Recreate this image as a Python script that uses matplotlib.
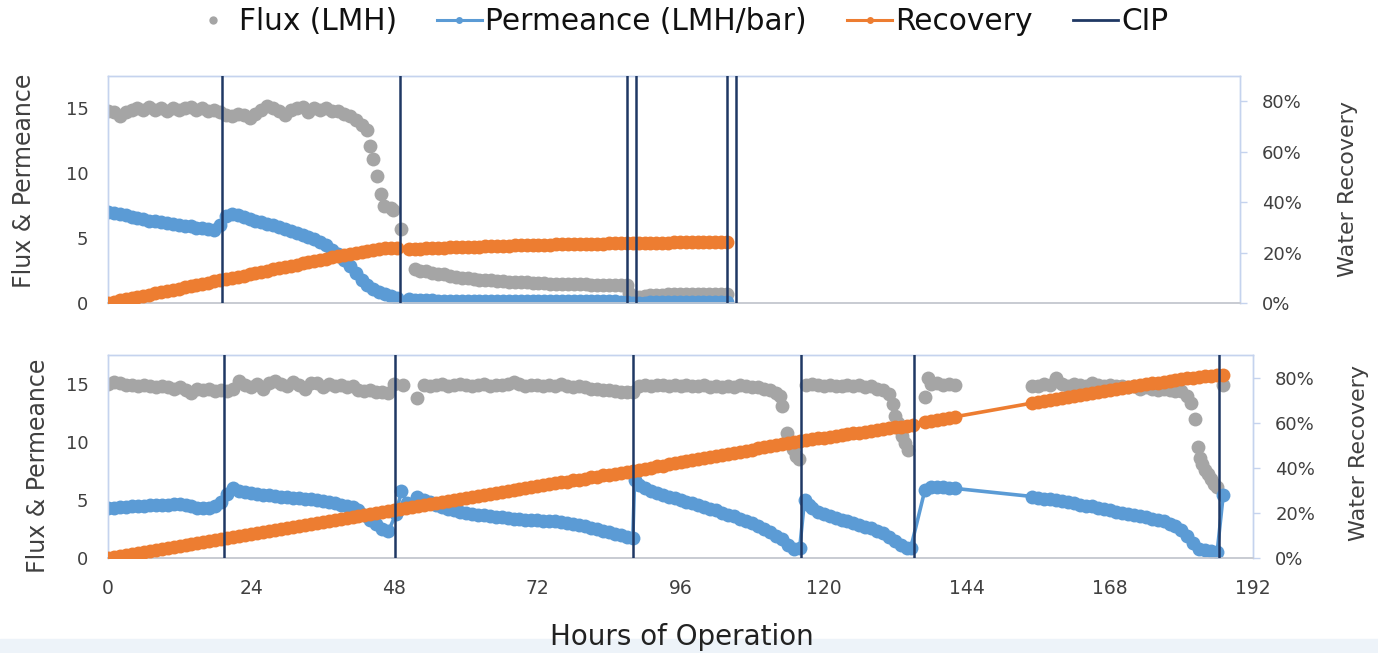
import numpy as np
import matplotlib
matplotlib.use("Agg")
import matplotlib.pyplot as plt
from matplotlib.lines import Line2D
from matplotlib.patches import Rectangle

# ---------------- DATA ----------------
x_ticks = [0, 24, 48, 72, 96, 120, 144, 168, 192]
left_ticks = [0, 5, 10, 15]
right_ticks = [0, 20, 40, 60, 80]
right_tick_labels = ["0%", "20%", "40%", "60%", "80%"]
legend_labels = ["Flux (LMH)", "Permeance (LMH/bar)", "Recovery", "CIP"]

# ---- top panel ----
top_cip = [19.3, 49.6, 88.0, 89.6, 105.0, 106.5]

top_flux_h = (list(range(0, 44))
              + [44.0, 44.5, 45.0, 45.7, 46.3, 46.8, 48.0, 48.4, 49.7]
              + list(range(52, 89))
              + [88.4, 88.8, 89.2, 89.7]
              + list(range(90, 106)))
top_flux = [
    14.8, 14.7, 14.4, 14.7, 14.9, 15.0, 14.9, 15.1, 14.9, 15.0,
    14.8, 15.0, 14.9, 15.0, 15.1, 14.9, 15.0, 14.8, 14.9, 14.7,
    14.5, 14.4, 14.6, 14.5, 14.3, 14.6, 14.9, 15.2, 15.0, 14.8,
    14.5, 14.9, 15.0, 15.1, 14.7, 15.0, 14.9, 15.0, 14.8, 14.8,
    14.6, 14.4, 14.1, 13.7,
    13.3, 12.1, 11.1, 9.8, 8.4, 7.5, 7.3, 7.2, 5.7,
    2.6, 2.5, 2.45, 2.35, 2.25, 2.2, 2.1, 2.0, 1.95, 1.9,
    1.85, 1.8, 1.8, 1.75, 1.7, 1.7, 1.65, 1.65, 1.6, 1.6,
    1.58, 1.55, 1.55, 1.5, 1.5, 1.5, 1.48, 1.45, 1.45, 1.45,
    1.42, 1.42, 1.4, 1.4, 1.4, 1.38, 1.35,
    0.8, 0.2, 0.05, 0.25,
    0.45, 0.55, 0.6, 0.63, 0.65, 0.68, 0.7, 0.7, 0.72, 0.72,
    0.73, 0.72, 0.73, 0.72, 0.72, 0.7]

top_perm_h = list(range(0, 50)) + list(range(51, 106))
top_perm = [
    7.0, 6.95, 6.85, 6.75, 6.65, 6.55, 6.45, 6.35, 6.3, 6.25,
    6.2, 6.1, 6.05, 5.95, 5.9, 5.8, 5.75, 5.7, 5.6, 6.0,
    6.7, 6.85, 6.75, 6.6, 6.5, 6.35, 6.25, 6.1, 6.0, 5.85,
    5.7, 5.55, 5.4, 5.25, 5.1, 4.9, 4.7, 4.45, 4.1, 3.8,
    3.35, 2.85, 2.3, 1.75, 1.35, 1.05, 0.85, 0.7, 0.55, 0.4,
    0.3, 0.25, 0.22, 0.2, 0.2, 0.19, 0.19, 0.18, 0.18, 0.18,
    0.17, 0.17, 0.17, 0.16, 0.16, 0.16, 0.15, 0.15, 0.15, 0.15,
    0.15, 0.14, 0.14, 0.14, 0.14, 0.13, 0.13, 0.13, 0.13, 0.13,
    0.12, 0.12, 0.12, 0.12, 0.12, 0.12, 0.11, 0.11,
    0.0, 0.0, 0.03, 0.05, 0.06, 0.07, 0.08, 0.08, 0.09, 0.09,
    0.1, 0.1, 0.1, 0.1, 0.1, 0.1, 0.1]

top_rec_h = list(range(0, 50)) + list(range(51, 106))
top_rec = [
    0.0, 0.5, 1.0, 1.4, 1.9, 2.4, 2.9, 3.3, 3.8, 4.3,
    4.8, 5.2, 5.7, 6.2, 6.7, 7.1, 7.6, 8.1, 8.6, 9.0,
    9.5, 10.0, 10.5, 10.9, 11.4, 11.9, 12.4, 12.8, 13.3, 13.8,
    14.3, 14.7, 15.2, 15.7, 16.2, 16.6, 17.1, 17.6, 18.1, 18.5,
    19.0, 19.5, 20.0, 20.4, 20.8, 21.1, 21.4, 21.7, 21.9, 22.0,
    21.4, 21.5, 21.6, 21.7, 21.8, 21.9, 22.0, 22.05, 22.1, 22.2,
    22.25, 22.3, 22.4, 22.45, 22.5, 22.6, 22.65, 22.7, 22.8, 22.85,
    22.9, 23.0, 23.05, 23.1, 23.15, 23.2, 23.25, 23.3, 23.35, 23.4,
    23.45, 23.5, 23.5, 23.55, 23.6, 23.65, 23.7, 23.75,
    23.75, 23.8, 23.8, 23.85, 23.9, 23.9, 23.95, 24.0, 24.0, 24.05,
    24.1, 24.1, 24.15, 24.15, 24.2, 24.2, 24.25]

# ---- bottom panel ----
bot_cip = [19.5, 48.2, 88.0, 116.2, 135.2, 186.3]

bot_flux_h = (list(range(0, 48)) + [48.0, 49.5, 51.8]
              + list(range(53, 89)) + list(range(89, 113))
              + [112.7, 113.1, 113.8, 114.3, 114.8, 115.3, 115.8]
              + list(range(117, 132))
              + [131.6, 132.0, 132.5, 132.8, 133.2, 133.6, 134.2]
              + [137.0, 137.5] + list(range(138, 143))
              + list(range(155, 182))
              + [181.6, 182.2, 182.7, 183.1, 183.5, 184.0, 184.5, 185.0,
                 185.5, 186.0, 187.0])
bot_flux = [
    15.0, 15.2, 15.1, 14.9, 14.9, 14.8, 14.9, 14.8, 14.7, 14.8,
    14.7, 14.6, 14.7, 14.5, 14.2, 14.6, 14.5, 14.6, 14.4, 14.5,
    14.4, 14.6, 15.3, 14.9, 14.7, 15.0, 14.6, 15.1, 15.3, 15.0,
    14.8, 15.2, 14.9, 14.6, 15.1, 15.1, 14.7, 15.0, 14.8, 14.9,
    14.7, 14.8, 14.5, 14.4, 14.5, 14.3, 14.3, 14.2,
    15.0, 14.9, 13.8,
    14.9, 14.8, 14.9, 15.0, 14.8, 14.9, 15.0, 14.9, 14.8, 14.9,
    15.0, 14.8, 14.9, 14.9, 15.0, 15.2, 15.0, 14.8, 14.9, 14.9,
    14.8, 14.9, 14.8, 15.0, 14.8, 14.7, 14.8, 14.7, 14.6, 14.6,
    14.5, 14.5, 14.4, 14.3, 14.3, 14.3,
    14.8, 14.9, 14.8, 14.9, 14.9, 14.8, 14.9, 14.8, 14.9, 14.8,
    14.8, 14.9, 14.7, 14.8, 14.7, 14.8, 14.7, 14.9, 14.8, 14.7,
    14.7, 14.6, 14.5, 14.2,
    14.0, 13.1, 10.8, 10.0, 9.4, 8.8, 8.5,
    14.9, 15.0, 14.9, 14.8, 14.9, 14.8, 14.8, 14.9, 14.8, 14.9,
    14.7, 14.8, 14.6, 14.5, 14.1,
    13.3, 12.2, 11.6, 11.1, 10.5, 9.9, 9.3,
    13.9, 15.5, 15.0, 15.1, 14.9, 15.0, 14.9,
    14.8, 14.8, 15.0, 14.9, 15.5, 15.0, 14.8, 15.0, 14.9, 14.8,
    15.1, 14.9, 14.8, 14.9, 14.8, 14.8, 14.7, 14.8, 14.6, 14.7,
    14.6, 14.5, 14.6, 14.5, 14.4, 14.4, 14.0,
    13.4, 12.0, 9.6, 8.6, 8.1, 7.6, 7.2, 6.8, 6.4, 6.1, 14.9]

bot_perm_h = (list(range(0, 48)) + [48.3, 49.2, 50.2, 51.8]
              + list(range(53, 89)) + [88.3] + list(range(89, 117))
              + [116.8, 117.5] + list(range(118, 135)) + [134.6]
              + list(range(137, 143)) + list(range(155, 188)))
bot_perm = [
    4.3, 4.3, 4.4, 4.4, 4.45, 4.5, 4.5, 4.55, 4.6, 4.6,
    4.6, 4.65, 4.65, 4.6, 4.5, 4.35, 4.3, 4.35, 4.45, 4.8,
    5.5, 6.0, 5.8, 5.7, 5.6, 5.5, 5.45, 5.4, 5.35, 5.3,
    5.3, 5.2, 5.15, 5.1, 5.05, 5.0, 4.9, 4.85, 4.75, 4.6,
    4.5, 4.4, 4.1, 3.7, 3.3, 2.9, 2.5, 2.3,
    3.8, 5.8, 4.7, 5.3,
    5.0, 4.8, 4.6, 4.4, 4.25, 4.1, 4.0, 3.9, 3.8, 3.75,
    3.7, 3.6, 3.55, 3.5, 3.45, 3.4, 3.35, 3.3, 3.3, 3.25,
    3.2, 3.2, 3.15, 3.1, 3.0, 2.95, 2.85, 2.75, 2.6, 2.5,
    2.35, 2.25, 2.1, 1.95, 1.8, 1.7,
    6.7,
    6.3, 6.0, 5.75, 5.6, 5.45, 5.3, 5.15, 5.0, 4.85, 4.7,
    4.55, 4.4, 4.25, 4.1, 3.9, 3.75, 3.6, 3.4, 3.2, 3.0,
    2.75, 2.5, 2.2, 1.9, 1.6, 1.1, 0.8, 0.9,
    5.0, 4.6,
    4.3, 4.0, 3.8, 3.6, 3.45, 3.3, 3.15, 3.0, 2.85, 2.7,
    2.55, 2.35, 2.15, 1.85, 1.5, 1.1, 0.9,
    0.85,
    5.9, 6.1, 6.15, 6.1, 6.05, 6.0,
    5.3, 5.2, 5.1, 5.05, 5.0, 4.95, 4.85, 4.75, 4.6, 4.5,
    4.45, 4.3, 4.2, 4.1, 4.0, 3.9, 3.8, 3.7, 3.6, 3.5,
    3.4, 3.3, 3.15, 2.95, 2.75, 2.4, 1.9, 1.3, 0.8, 0.65,
    0.6, 0.55, 5.4]

bot_rec_h = list(range(0, 136)) + list(range(137, 143)) + list(range(155, 188))
bot_rec = [
    0.0, 0.45, 0.9, 1.35, 1.8, 2.25, 2.7, 3.15, 3.6, 4.05,
    4.5, 4.95, 5.4, 5.85, 6.3, 6.75, 7.2, 7.65, 8.1, 8.55,
    9.0, 9.4, 9.8, 10.3, 10.7, 11.2, 11.6, 12.0, 12.5, 12.9,
    13.4, 13.8, 14.2, 14.7, 15.1, 15.6, 16.0, 16.4, 16.9, 17.3,
    17.8, 18.2, 18.6, 19.1, 19.5, 20.0, 20.4, 20.8, 21.3, 21.7,
    22.1, 22.6, 23.0, 23.4, 23.8, 24.3, 24.7, 25.2, 25.6, 26.0,
    26.5, 26.9, 27.3, 27.8, 28.2, 28.7, 29.1, 29.5, 30.0, 30.4,
    30.9, 31.3, 31.7, 32.2, 32.6, 33.1, 33.5, 33.9, 34.4, 34.8,
    35.2, 35.7, 36.1, 36.6, 37.0, 37.4, 37.9, 38.3, 38.7, 39.2,
    39.6, 40.1, 40.6, 41.0, 41.5, 42.0, 42.5, 42.9, 43.4, 43.9,
    44.3, 44.8, 45.3, 45.7, 46.2, 46.7, 47.2, 47.6, 48.1, 48.6,
    49.0, 49.5, 50.0, 50.4, 50.9, 51.4, 51.8, 52.2, 52.6, 53.0,
    53.4, 53.7, 54.1, 54.5, 54.9, 55.3, 55.6, 56.0, 56.4, 56.8,
    57.2, 57.5, 57.9, 58.3, 58.7, 59.1,
    60.2, 60.6, 61.1, 61.6, 62.1, 62.6,
    68.7, 69.1, 69.6, 70.0, 70.5, 70.9, 71.4, 71.8, 72.3, 72.7,
    73.2, 73.6, 74.1, 74.5, 75.0, 75.4, 75.8, 76.2, 76.6, 77.0,
    77.4, 77.8, 78.2, 78.6, 78.9, 79.3, 79.6, 79.9, 80.2, 80.5,
    80.8, 81.0, 81.2]

# ---------------- STYLE ----------------
GRAY = "#A5A5A5"
BLUE = "#5B9BD5"
ORANGE = "#ED7D31"
NAVY = "#1F3864"
FRAME = "#C5D3EE"
AXLINE = "#C8CBD2"
TXT = "#404040"
MS = 10
LW = 2.6

W, H = 1378, 653
fig = plt.figure(figsize=(W / 100, H / 100), dpi=100)
fig.patches.append(Rectangle((0, 0), 1, 14 / H, transform=fig.transFigure,
                             color="#EDF3F9", zorder=-5))


def px_x(p):
    return p / W


def px_y(p):
    return 1 - p / H


def make_panel(rect, flux_h, flux, perm_h, perm, rec_h, rec, cips, show_x):
    ax = fig.add_axes(rect)
    ax.plot(flux_h, flux, "o", color=GRAY, ms=MS, mec="none", zorder=2)
    ax.plot(perm_h, perm, "-o", color=BLUE, lw=LW, ms=MS, mec="none", zorder=3)
    ax.set_xlim(0, 192)
    ax.set_ylim(0, 17.5)
    ax.set_yticks(left_ticks)
    ax.tick_params(axis="y", length=0, pad=14, labelsize=13, labelcolor=TXT)
    if show_x:
        ax.set_xticks(x_ticks)
        ax.tick_params(axis="x", length=0, pad=15, labelsize=13.5, labelcolor=TXT)
    else:
        ax.set_xticks([])
    ax2 = ax.twinx()
    ax2.plot(rec_h, rec, "-o", color=ORANGE, lw=LW, ms=MS, mec="none", zorder=3)
    for c in cips:
        ax2.axvline(c, color=NAVY, lw=1.8, zorder=4)
    ax2.set_xlim(0, 192)
    ax2.set_ylim(0, 90)
    ax2.set_yticks(right_ticks)
    ax2.set_yticklabels(right_tick_labels)
    ax2.tick_params(axis="y", length=5, width=1, color=FRAME, pad=11,
                    labelsize=13, labelcolor=TXT)
    for a in (ax, ax2):
        for s in ("top", "left", "right"):
            a.spines[s].set_color(FRAME)
            a.spines[s].set_linewidth(1.0)
        a.spines["bottom"].set_color(AXLINE)
        a.spines["bottom"].set_linewidth(1.2)
    return ax, ax2


make_panel([px_x(108), px_y(303), (1240 - 108) / W, (303 - 76) / H],
           top_flux_h, top_flux, top_perm_h, top_perm, top_rec_h, top_rec,
           top_cip, False)
make_panel([px_x(108), px_y(558), (1253 - 108) / W, (558 - 355) / H],
           bot_flux_h, bot_flux, bot_perm_h, bot_perm, bot_rec_h, bot_rec,
           bot_cip, True)

# axis titles
fig.text(px_x(24), px_y(181), "Flux & Permeance", rotation=90, ha="center",
         va="center", fontsize=17, color=TXT)
fig.text(px_x(38), px_y(466), "Flux & Permeance", rotation=90, ha="center",
         va="center", fontsize=17, color=TXT)
fig.text(px_x(1348), px_y(189), "Water Recovery", rotation=90, ha="center",
         va="center", fontsize=16, color=TXT)
fig.text(px_x(1359), px_y(453), "Water Recovery", rotation=90, ha="center",
         va="center", fontsize=16, color=TXT)
fig.text(px_x(682), px_y(637), "Hours of Operation", ha="center",
         va="center", fontsize=20, color="#222222")

handles = [
    Line2D([], [], ls="none", marker="o", color=GRAY, ms=6, mec="none"),
    Line2D([], [], color=BLUE, lw=2.2, marker="o", ms=5, mec="none"),
    Line2D([], [], color=ORANGE, lw=2.2, marker="o", ms=5, mec="none"),
    Line2D([], [], color=NAVY, lw=2.0),
]
fig.legend(handles, legend_labels, loc="center",
           bbox_to_anchor=(px_x(679.5), px_y(22)), ncol=4, frameon=False,
           fontsize=21.3, handlelength=1.52, handletextpad=0.12,
           columnspacing=1.35, labelcolor="#111111")

fig.savefig("out.png", dpi=100)
